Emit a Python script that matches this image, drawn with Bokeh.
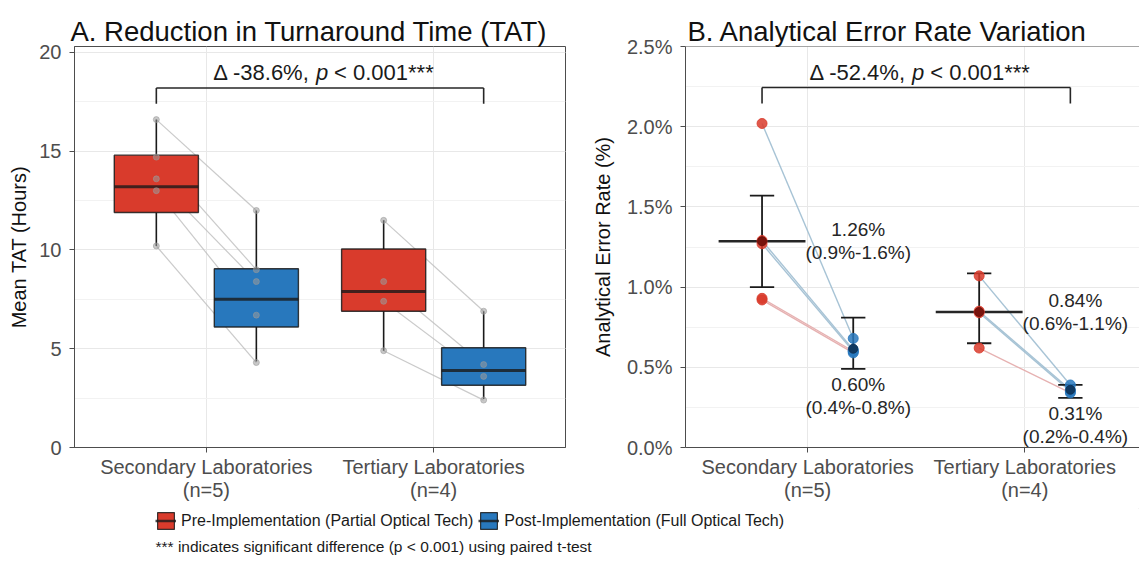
import math
from bokeh.plotting import figure
from bokeh.models import (Range1d, FixedTicker, SingleIntervalTicker, Span, Legend,
                          LegendItem, Label, PrintfTickFormatter, ColumnDataSource)
from bokeh.layouts import column, row
from bokeh.embed import file_html
from bokeh.resources import INLINE
from bokeh.core.properties import value

FONT = "Liberation Sans"
RED = "#D93B2C"
BLUE = "#2878BD"
DARK_RED = "#6E0F0A"
DARK_BLUE = "#0E3358"
GRID = "#E8E8E8"
MINOR = "#F2F2F2"
BORDER = "#4D4D4D"
TICKTXT = "#4D4D4D"
INK = "#1A1A1A"

# ---------------- data ----------------
groups = ["Secondary Laboratories", "Tertiary Laboratories"]
group_n = [5, 4]
group_x = [1, 2]

# Panel A: mean TAT (hours), box statistics
tat_pre_lo = [10.2, 4.9]
tat_pre_q1 = [11.9, 6.9]
tat_pre_med = [13.2, 7.9]
tat_pre_q3 = [14.8, 10.05]
tat_pre_hi = [16.6, 11.5]
tat_post_lo = [4.35, 2.45]
tat_post_q1 = [6.1, 3.15]
tat_post_med = [7.5, 3.9]
tat_post_q3 = [9.05, 5.05]
tat_post_hi = [12.0, 6.9]
# individual laboratories (pre -> post)
tat_sec_pre = [16.6, 14.7, 13.6, 13.0, 10.2]
tat_sec_post = [12.0, 9.0, 8.4, 6.7, 4.3]
tat_ter_pre = [11.5, 8.4, 7.4, 4.9]
tat_ter_post = [6.9, 4.2, 3.6, 2.4]
tat_delta = "-38.6%"

# Panel B: analytical error rate (%)
err_sec_pre = [2.02, 1.29, 1.27, 0.93, 0.92]
err_sec_post = [0.68, 0.61, 0.60, 0.60, 0.59]
err_ter_pre = [1.07, 0.85, 0.84, 0.62]
err_ter_post = [0.39, 0.36, 0.35, 0.34]
err_pre_bar_lo = [1.00, 0.65]
err_pre_bar_hi = [1.57, 1.085]
err_post_bar_lo = [0.49, 0.31]
err_post_bar_hi = [0.81, 0.39]
err_pre_mean = [1.26, 0.84]
err_pre_ci_lo = [0.9, 0.6]
err_pre_ci_hi = [1.6, 1.1]
err_post_mean = [0.60, 0.31]
err_post_ci_lo = [0.4, 0.2]
err_post_ci_hi = [0.8, 0.4]
err_delta = "-52.4%"

legend_labels = ["Pre-Implementation (Partial Optical Tech)",
                 "Post-Implementation (Full Optical Tech)"]
footnote = "*** indicates significant difference (p < 0.001) using paired t-test"

tat_pre_pts = [tat_sec_pre, tat_ter_pre]
tat_post_pts = [tat_sec_post, tat_ter_post]
err_pre_pts = [err_sec_pre, err_ter_pre]
err_post_pts = [err_sec_post, err_ter_post]

tick_text = {x: f"{g}\n(n={n})" for x, g, n in zip(group_x, groups, group_n)}


def style(p, title, ylabel, title_offset):
    p.title.text = title
    p.title.text_font = FONT
    p.title.text_font_size = "27.5px"
    p.title.text_font_style = "normal"
    p.title.text_color = "#111111"
    p.title.align = "left"
    p.title.offset = title_offset
    p.title.standoff = -1
    p.background_fill_color = "white"
    p.border_fill_color = "white"
    for ax in (p.xaxis[0], p.yaxis[0]):
        ax.major_label_text_font = FONT
        ax.major_label_text_font_size = "20px"
        ax.major_label_text_color = TICKTXT
        ax.major_label_text_line_height = 1.05
        ax.axis_label_text_font = FONT
        ax.axis_label_text_font_size = "20px"
        ax.axis_label_text_font_style = "normal"
        ax.axis_label_text_color = "#111111"
        ax.axis_line_color = BORDER
        ax.major_tick_line_color = BORDER
        ax.major_tick_out = 5
        ax.major_tick_in = 0
        ax.minor_tick_line_color = None
    p.xaxis.major_label_standoff = 3
    p.yaxis.major_label_standoff = 8
    p.yaxis.axis_label = ylabel
    p.xaxis.ticker = FixedTicker(ticks=group_x)
    p.xaxis.major_label_overrides = tick_text
    p.xgrid.ticker = FixedTicker(ticks=group_x)
    p.xgrid.grid_line_color = GRID
    p.ygrid.grid_line_color = GRID
    p.ygrid.minor_grid_line_color = MINOR
    p.xaxis.major_label_text_align = "center"


# ---------------- Panel A ----------------
DA = 0.22
BW = 0.37
pA = figure(width=588, height=508, x_range=Range1d(0.42, 2.58), y_range=Range1d(0, 20.3),
            output_backend="svg", toolbar_location=None,
            min_border_left=74, min_border_right=23, min_border_top=46, min_border_bottom=61)
style(pA, "A. Reduction in Turnaround Time (TAT)", "Mean TAT (Hours)", -4)
pA.yaxis.ticker = SingleIntervalTicker(interval=5, num_minor_ticks=2)
pA.ygrid.ticker = SingleIntervalTicker(interval=5, num_minor_ticks=2)
pA.yaxis.axis_label_standoff = 6
pA.outline_line_color = BORDER
pA.outline_line_width = 1

lx, ly = [], []
for gi, gx in enumerate(group_x):
    for a, b in zip(tat_pre_pts[gi], tat_post_pts[gi]):
        lx.append([gx - DA, gx + DA])
        ly.append([a, b])
pA.multi_line(lx, ly, line_color="#BDBDBD", line_width=1.2, line_alpha=0.8)

box_sets = [
    ([x - DA for x in group_x], tat_pre_lo, tat_pre_q1, tat_pre_med, tat_pre_q3, tat_pre_hi, RED),
    ([x + DA for x in group_x], tat_post_lo, tat_post_q1, tat_post_med, tat_post_q3, tat_post_hi, BLUE),
]
for bx, lo, q1, med, q3, hi, col in box_sets:
    pA.segment(x0=bx, y0=q3, x1=bx, y1=hi, line_color=INK, line_width=1.6)
    pA.segment(x0=bx, y0=lo, x1=bx, y1=q1, line_color=INK, line_width=1.6)
    pA.vbar(x=bx, width=BW, bottom=q1, top=q3, fill_color=col, fill_alpha=1.0,
            line_color=INK, line_alpha=0.85, line_width=1.4)
    pA.segment(x0=[x - BW / 2 for x in bx], y0=med, x1=[x + BW / 2 for x in bx], y1=med,
               line_color=INK, line_alpha=0.8, line_width=3)

px, py = [], []
for gi, gx in enumerate(group_x):
    for v in tat_pre_pts[gi]:
        px.append(gx - DA); py.append(v)
    for v in tat_post_pts[gi]:
        px.append(gx + DA); py.append(v)
pA.scatter(px, py, size=6, fill_color="#9A9A9A", line_color="#9A9A9A", alpha=0.55)

# significance bracket A
bl, br = group_x[0] - DA, group_x[1] + DA
pA.segment(x0=[bl, bl, br], y0=[18.2, 18.2, 18.2], x1=[br, bl, br], y1=[18.2, 17.4, 17.4],
           line_color="#262626", line_width=1.6)
mid = (bl + br) / 2
SIG = "22px"
pA.text(x=[mid], y=[19.0], text=[f"\u0394 {tat_delta},"], text_align="right", text_baseline="middle",
        x_offset=-10, text_font=value(FONT), text_font_size=SIG, text_color=INK)
pA.text(x=[mid], y=[19.0], text=["p"], text_align="center", text_baseline="middle",
        x_offset=2, text_font=value(FONT), text_font_size=SIG, text_font_style="italic",
        text_color=INK)
pA.text(x=[mid], y=[19.0], text=["< 0.001***"], text_align="left", text_baseline="middle",
        x_offset=14, text_font=value(FONT), text_font_size=SIG, text_color=INK)

# ---------------- Panel B ----------------
DB = 0.21
pB = figure(width=551, height=508, x_range=Range1d(0.4375, 2.5284), y_range=Range1d(0, 2.5),
            output_backend="svg", toolbar_location=None,
            min_border_left=91, min_border_right=0, min_border_top=46, min_border_bottom=61)
style(pB, "B. Analytical Error Rate Variation", "Analytical Error Rate (%)", 2)
pB.yaxis.ticker = SingleIntervalTicker(interval=0.5, num_minor_ticks=2)
pB.ygrid.ticker = SingleIntervalTicker(interval=0.5, num_minor_ticks=2)
pB.yaxis.formatter = PrintfTickFormatter(format="%.1f%%")
pB.yaxis.axis_label_standoff = 10
pB.outline_line_color = None
pB.add_layout(Span(location=2.5, dimension="width", line_color=BORDER, line_width=1))

# connecting lines
for gi, gx in enumerate(group_x):
    pre_mean = sum(err_pre_pts[gi]) / len(err_pre_pts[gi])
    for a, b in zip(err_pre_pts[gi], err_post_pts[gi]):
        c = "#E3A9A9" if a < pre_mean - 0.1 else "#9DBDD0"
        pB.line([gx - DB, gx + DB], [a, b], line_color=c, line_width=1.4, line_alpha=0.9)

cap = 0.056
for sign, blo, bhi in [(-1, err_pre_bar_lo, err_pre_bar_hi), (1, err_post_bar_lo, err_post_bar_hi)]:
    xs = [gx + sign * DB for gx in group_x]
    pB.segment(x0=xs, y0=blo, x1=xs, y1=bhi, line_color=INK, line_width=1.8)
    pB.segment(x0=[x - cap for x in xs], y0=blo, x1=[x + cap for x in xs], y1=blo,
               line_color=INK, line_width=1.8)
    pB.segment(x0=[x - cap for x in xs], y0=bhi, x1=[x + cap for x in xs], y1=bhi,
               line_color=INK, line_width=1.8)

pre_means = [sum(v) / len(v) for v in err_pre_pts]
post_means = [sum(v) / len(v) for v in err_post_pts]
pre_xs = [gx - DB for gx in group_x]
pB.segment(x0=[x - 0.2 for x in pre_xs], y0=pre_means, x1=[x + 0.2 for x in pre_xs], y1=pre_means,
           line_color="#262626", line_width=2.6)

rx, ry, rc = [], [], []
for gi, gx in enumerate(group_x):
    for v in err_pre_pts[gi]:
        rx.append(gx - DB); ry.append(v); rc.append(RED)
    for v in err_post_pts[gi]:
        rx.append(gx + DB); ry.append(v); rc.append(BLUE)
pB.scatter(rx, ry, size=10, fill_color=rc, line_color=rc, alpha=0.85)
pB.scatter(pre_xs, pre_means, size=9, fill_color=DARK_RED, line_color=DARK_RED, alpha=0.9)
pB.scatter([gx + DB for gx in group_x], post_means, size=9, fill_color=DARK_BLUE,
           line_color=DARK_BLUE, alpha=0.9)

lab_x = [gx + DB for gx in group_x]
pre_txt = [f"{m:.2f}%\n({a:.1f}%-{b:.1f}%)" for m, a, b in zip(err_pre_mean, err_pre_ci_lo, err_pre_ci_hi)]
post_txt = [f"{m:.2f}%\n({a:.1f}%-{b:.1f}%)" for m, a, b in zip(err_post_mean, err_post_ci_lo, err_post_ci_hi)]
pB.text(x=lab_x, y=pre_means, text=pre_txt, text_align="center", text_baseline="middle",
        x_offset=5, text_font=value(FONT), text_font_size="19px", text_color="#262626",
        text_line_height=1.1)
pB.text(x=lab_x, y=err_post_bar_lo, text=post_txt, text_align="center", text_baseline="top",
        x_offset=5, y_offset=5, text_font=value(FONT), text_font_size="19px", text_color="#262626",
        text_line_height=1.1)

bl, br = group_x[0] - DB, group_x[1] + DB
pB.segment(x0=[bl, bl, br], y0=[2.244, 2.244, 2.244], x1=[br, bl, br], y1=[2.244, 2.145, 2.145],
           line_color="#262626", line_width=1.6)
mid = (bl + br) / 2
pB.text(x=[mid], y=[2.338], text=[f"\u0394 {err_delta},"], text_align="right", text_baseline="middle",
        x_offset=-10, text_font=value(FONT), text_font_size=SIG, text_color=INK)
pB.text(x=[mid], y=[2.338], text=["p"], text_align="center", text_baseline="middle",
        x_offset=2, text_font=value(FONT), text_font_size=SIG, text_font_style="italic",
        text_color=INK)
pB.text(x=[mid], y=[2.338], text=["< 0.001***"], text_align="left", text_baseline="middle",
        x_offset=14, text_font=value(FONT), text_font_size=SIG, text_color=INK)

# ---------------- legend strip ----------------
pL = figure(width=1139, height=57, x_range=Range1d(0, 1), y_range=Range1d(0, 1),
            output_backend="svg", toolbar_location=None, min_border=0)
pL.axis.visible = False
pL.grid.visible = False
pL.outline_line_color = None
items = []
for lab, col in zip(legend_labels, [RED, BLUE]):
    # a single off-range entry so that the legend key can be drawn
    src = ColumnDataSource(data=dict(x=[5.0], y=[5.0], top=[6.0], bottom=[5.0]))
    r1 = pL.vbar(x="x", width=0.1, top="top", bottom="bottom", source=src,
                 fill_color=col, line_color=INK, line_alpha=0.85, line_width=1.2)
    r2 = pL.segment(x0="x", y0="y", x1="x", y1="y", source=src, line_color=INK,
                    line_alpha=0.8, line_width=2.5)
    items.append(LegendItem(label=lab, renderers=[r1, r2]))
leg = Legend(items=items, orientation="horizontal", location=(155, 34),
             glyph_width=21, glyph_height=21, label_standoff=5, spacing=5, padding=0, margin=0,
             border_line_color=None, background_fill_alpha=0,
             label_text_font=FONT, label_text_font_size="16px", label_text_color=INK,
             label_height=21)
pL.add_layout(leg)
pL.add_layout(Label(x=155, y=19, x_units="screen", y_units="screen", text=footnote,
                    text_font=FONT, text_font_size="15.5px", text_color=INK,
                    text_baseline="middle"))

layout = column(row(pA, pB), pL)
open("out.html", "w").write(file_html(layout, INLINE))
